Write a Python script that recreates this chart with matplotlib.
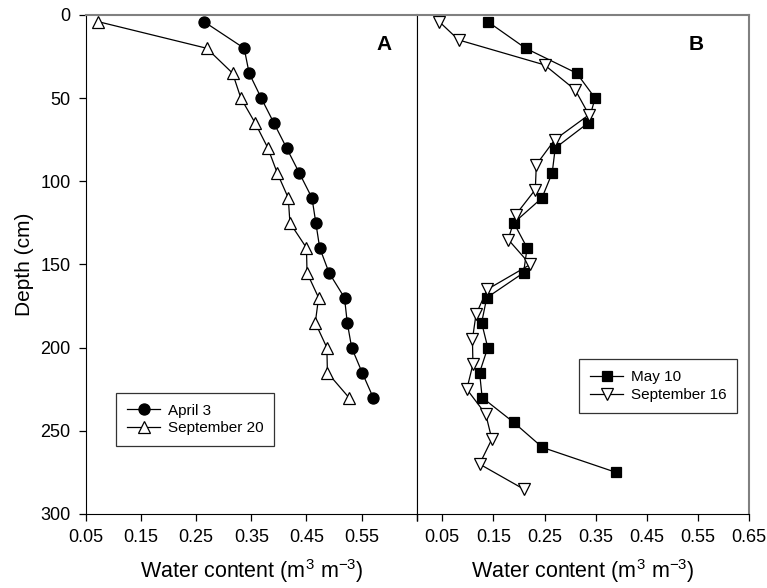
import matplotlib
matplotlib.use('Agg')
import matplotlib.pyplot as plt

plt.rcParams['font.family'] = ['Liberation Sans', 'DejaVu Sans']
plt.rcParams['mathtext.fontset'] = 'custom'
plt.rcParams['mathtext.rm'] = 'Liberation Sans'
plt.rcParams['mathtext.it'] = 'Liberation Sans:italic'

# Panel A: soil water content profiles
depth_a = [4, 20, 35, 50, 65, 80, 95, 110, 125, 140, 155, 170, 185, 200, 215, 230]
april3 = [0.264, 0.337, 0.346, 0.368, 0.391, 0.414, 0.437, 0.460, 0.467, 0.474,
          0.491, 0.519, 0.524, 0.532, 0.551, 0.571]
sept20 = [0.072, 0.269, 0.316, 0.331, 0.357, 0.380, 0.397, 0.417, 0.420, 0.450,
          0.451, 0.472, 0.466, 0.487, 0.488, 0.527]

# Panel B
depth_may = [4, 20, 35, 50, 65, 80, 95, 110, 125, 140, 155, 170, 185, 200, 215,
             230, 245, 260, 275]
may10 = [0.139, 0.213, 0.313, 0.349, 0.335, 0.271, 0.265, 0.245, 0.190, 0.216,
         0.209, 0.137, 0.127, 0.139, 0.123, 0.128, 0.190, 0.246, 0.390]
depth_sep16 = [4, 15, 30, 45, 60, 75, 90, 105, 120, 135, 150, 165, 180, 195, 210,
               225, 240, 255, 270, 285]
sept16 = [0.044, 0.082, 0.250, 0.310, 0.337, 0.270, 0.234, 0.232, 0.194, 0.179,
          0.222, 0.138, 0.116, 0.109, 0.110, 0.098, 0.135, 0.147, 0.123, 0.209]

xticks = [0.05, 0.15, 0.25, 0.35, 0.45, 0.55, 0.65]
xlabels_a = ['0.05', '0.15', '0.25', '0.35', '0.45', '0.55', '']
xlabels_b = ['', '0.05', '0.15', '0.25', '0.35', '0.45', '0.55', '0.65']

fig = plt.figure(figsize=(7.67, 5.88), dpi=100)
ax_a = fig.add_axes([0.1121, 0.1259, 0.4312, 0.8486])
ax_b = fig.add_axes([0.5433, 0.1259, 0.4332, 0.8486])

line_kw = dict(color='black', linewidth=0.9, markeredgecolor='black', markeredgewidth=0.9)

ax_a.plot(april3, depth_a, marker='o', markersize=8, markerfacecolor='black',
          label='April 3', **line_kw)
ax_a.plot(sept20, depth_a, marker='^', markersize=9, markerfacecolor='white',
          label='September 20', **line_kw)
ax_b.plot(may10, depth_may, marker='s', markersize=7.5, markerfacecolor='black',
          label='May 10', **line_kw)
ax_b.plot(sept16, depth_sep16, marker='v', markersize=9, markerfacecolor='white',
          label='September 16', **line_kw)

xlabel = 'Water content (m$^{3}$ m$^{\\mathrm{-3}}$)'
for ax in (ax_a, ax_b):
    ax.set_ylim(300, 0)
    ax.spines['top'].set_color('#808080')
    ax.spines['top'].set_linewidth(1.5)
    ax.tick_params(axis='both', direction='out', length=5, width=0.9, labelsize=13, pad=6)
    ax.set_xlabel(xlabel, fontsize=15.5, labelpad=8)

ax_a.set_xlim(0.05, 0.65)
ax_a.set_xticks(xticks)
ax_a.set_xticklabels(xlabels_a)
ax_a.set_yticks([0, 50, 100, 150, 200, 250, 300])
ax_a.set_ylabel('Depth (cm)', fontsize=15, labelpad=5)

ax_b.set_xlim(0.0, 0.65)
ax_b.set_xticks([0.0] + xticks)
ax_b.set_xticklabels(xlabels_b)
ax_b.set_yticks([])
ax_b.spines['right'].set_color('#808080')
ax_b.spines['right'].set_linewidth(1.5)

ax_a.text(0.9, 0.94, 'A', transform=ax_a.transAxes, fontsize=15, fontweight='bold',
          ha='center', va='center')
ax_b.text(0.84, 0.94, 'B', transform=ax_b.transAxes, fontsize=15, fontweight='bold',
          ha='center', va='center')

leg_kw = dict(fontsize=11, frameon=True, fancybox=False, edgecolor='black',
              handlelength=2.2, handletextpad=0.5, borderpad=0.7, labelspacing=0.25)
leg_a = ax_a.legend(loc='upper left', bbox_to_anchor=(0.068, 0.258), **leg_kw)
leg_b = ax_b.legend(loc='upper left', bbox_to_anchor=(0.466, 0.325), **leg_kw)
for leg in (leg_a, leg_b):
    leg.get_frame().set_linewidth(0.9)

fig.savefig('out.png', dpi=100)
